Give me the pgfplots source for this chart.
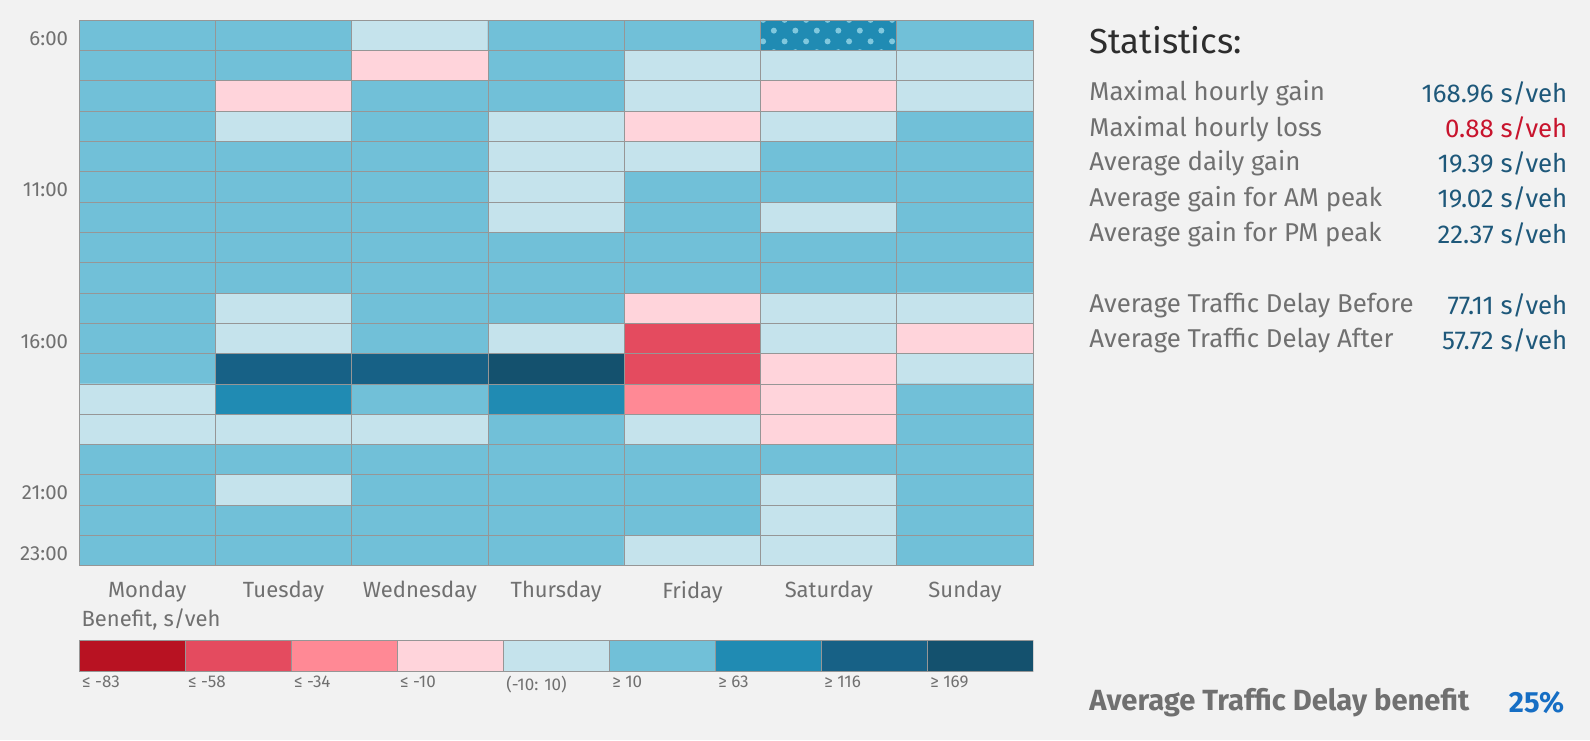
\documentclass[border=0pt]{standalone}
\usepackage{fontspec}
\setmainfont{Fira Sans}
\usepackage{pgfplots}
\usepackage{pgfplotstable}
\pgfplotsset{compat=1.18}
\usetikzlibrary{patterns.meta}

\definecolor{bg}{HTML}{F2F2F2}
\definecolor{gridgray}{RGB}{150,150,150}
\definecolor{labgray}{RGB}{112,112,112}
\definecolor{darktxt}{RGB}{45,45,45}
\definecolor{valblue}{RGB}{30,88,122}
\definecolor{valred}{RGB}{200,20,45}
\definecolor{pctblue}{RGB}{22,110,196}
% benefit classes, from <= -83 up to >= 169
\definecolor{cA}{RGB}{184,18,34}
\definecolor{cB}{RGB}{228,75,95}
\definecolor{cC}{RGB}{255,137,149}
\definecolor{cD}{RGB}{255,212,219}
\definecolor{cE}{RGB}{197,227,236}
\definecolor{cF}{RGB}{113,192,216}
\definecolor{cG}{RGB}{32,139,179}
\definecolor{cH}{RGB}{23,97,134}
\definecolor{cI}{RGB}{20,81,110}
\definecolor{dotblue}{RGB}{128,200,222}

% class index per cell: x = day (0 = Monday), y = hour
\pgfplotstableread{
x y c
0 6 5
1 6 5
2 6 4
3 6 5
4 6 5
5 6 6
6 6 5
0 7 5
1 7 5
2 7 3
3 7 5
4 7 4
5 7 4
6 7 4
0 8 5
1 8 3
2 8 5
3 8 5
4 8 4
5 8 3
6 8 4
0 9 5
1 9 4
2 9 5
3 9 4
4 9 3
5 9 4
6 9 5
0 10 5
1 10 5
2 10 5
3 10 4
4 10 4
5 10 5
6 10 5
0 11 5
1 11 5
2 11 5
3 11 4
4 11 5
5 11 5
6 11 5
0 12 5
1 12 5
2 12 5
3 12 4
4 12 5
5 12 4
6 12 5
0 13 5
1 13 5
2 13 5
3 13 5
4 13 5
5 13 5
6 13 5
0 14 5
1 14 5
2 14 5
3 14 5
4 14 5
5 14 5
6 14 5
0 15 5
1 15 4
2 15 5
3 15 5
4 15 3
5 15 4
6 15 4
0 16 5
1 16 4
2 16 5
3 16 4
4 16 1
5 16 4
6 16 3
0 17 5
1 17 7
2 17 7
3 17 8
4 17 1
5 17 3
6 17 4
0 18 4
1 18 6
2 18 5
3 18 6
4 18 2
5 18 3
6 18 5
0 19 4
1 19 4
2 19 4
3 19 5
4 19 4
5 19 3
6 19 5
0 20 5
1 20 5
2 20 5
3 20 5
4 20 5
5 20 5
6 20 5
0 21 5
1 21 4
2 21 5
3 21 5
4 21 5
5 21 4
6 21 5
0 22 5
1 22 5
2 22 5
3 22 5
4 22 5
5 22 4
6 22 5
0 23 5
1 23 5
2 23 5
3 23 5
4 23 4
5 23 4
6 23 5
}\heatdata

\begin{document}
\begin{tikzpicture}
\useasboundingbox (0,0) rectangle (795pt,-370pt);
\fill[bg] (0,0) rectangle (795pt,-370pt);

\begin{axis}[
  at={(39.55pt,-10.14pt)}, anchor=north west,
  scale only axis, width=477.1pt, height=272.8pt,
  xmin=-0.5, xmax=6.5, ymin=5.5, ymax=23.5, y dir=reverse,
  xtick={0,...,6},
  xticklabels={Monday,Tuesday,Wednesday,Thursday,Friday,Saturday,Sunday},
  ytick={6,11,16,21,23},
  yticklabels={6:00,11:00,16:00,21:00,23:00},
  major tick length=0, minor tick length=0,
  minor xtick={0.5,1.5,...,5.5},
  minor ytick={6.5,7.5,...,22.5},
  xminorgrids, yminorgrids,
  minor grid style={gridgray, line width=0.5pt},
  axis line style={gridgray, line width=0.5pt},
  axis on top,
  tick label style={text=labgray},
  xticklabel style={font=\fontsize{11}{13}\selectfont, yshift=-4pt},
  yticklabel style={font=\fontsize{10.2}{12}\selectfont, yshift=-1.5pt, xshift=-2pt},
  colormap={benefit}{color=(cA) color=(cB) color=(cC) color=(cD) color=(cE)
    color=(cF) color=(cG) color=(cH) color=(cI)},
  colormap access=direct,
]
\addplot[matrix plot*, mesh/cols=7, point meta=explicit] table[meta=c] {\heatdata};
% Saturday 6:00 cell carries a dotted overlay
\addplot[draw=none, pattern={Dots[angle=45, distance=7.6pt, radius=1.5pt]}, pattern color=dotblue]
  coordinates {(4.5,5.5) (5.5,5.5) (5.5,6.5) (4.5,6.5)} -- cycle;
\end{axis}

% legend bar
\begin{axis}[
  at={(39.55pt,-320.4pt)}, anchor=north west,
  scale only axis, width=477.1pt, height=15.2pt,
  xmin=0, xmax=9, ymin=0, ymax=1,
  axis line style={draw=none},
  ytick=\empty, major tick length=0,
  xtick={0,...,8},
  xticklabels={≤ -83, ≤ -58, ≤ -34, ≤ -10, (-10: 10), ≥ 10, ≥ 63, ≥ 116, ≥ 169},
  xticklabel style={anchor=north west, text=labgray, font=\fontsize{8.5}{10}\selectfont, xshift=-2pt, yshift=1pt},
]
\addplot[fill=cA, draw=gridgray] coordinates {(0,1) (1,1)} \closedcycle;
\addplot[fill=cB, draw=gridgray] coordinates {(1,1) (2,1)} \closedcycle;
\addplot[fill=cC, draw=gridgray] coordinates {(2,1) (3,1)} \closedcycle;
\addplot[fill=cD, draw=gridgray] coordinates {(3,1) (4,1)} \closedcycle;
\addplot[fill=cE, draw=gridgray] coordinates {(4,1) (5,1)} \closedcycle;
\addplot[fill=cF, draw=gridgray] coordinates {(5,1) (6,1)} \closedcycle;
\addplot[fill=cG, draw=gridgray] coordinates {(6,1) (7,1)} \closedcycle;
\addplot[fill=cH, draw=gridgray] coordinates {(7,1) (8,1)} \closedcycle;
\addplot[fill=cI, draw=gridgray] coordinates {(8,1) (9,1)} \closedcycle;
\end{axis}

\begin{scope}[x=0.507pt, y=-0.507pt]
\node[anchor=west, inner sep=0pt, text=labgray, font=\fontsize{11}{13}\selectfont] at (80,611) {Benefit, s/veh};

\node[anchor=west, inner sep=0pt, text=darktxt, font=\fontsize{17.4}{20}\selectfont] at (1074,40) {Statistics:};
\begin{scope}[every node/.style={inner sep=0pt, font=\fontsize{12.9}{15}\selectfont}]
\node[anchor=west, text=labgray] at (1074,92) {Maximal hourly gain};
\node[anchor=west, text=labgray] at (1074,127) {Maximal hourly loss};
\node[anchor=west, text=labgray] at (1074,161) {Average daily gain};
\node[anchor=west, text=labgray] at (1074,196) {Average gain for AM peak};
\node[anchor=west, text=labgray] at (1074,231) {Average gain for PM peak};
\node[anchor=west, text=labgray] at (1074,301) {Average Traffic Delay Before};
\node[anchor=west, text=labgray] at (1074,336) {Average Traffic Delay After};
\node[anchor=east, text=valblue] at (1546,92) {168.96 s/veh};
\node[anchor=east, text=valred] at (1546,127) {0.88 s/veh};
\node[anchor=east, text=valblue] at (1546,161) {19.39 s/veh};
\node[anchor=east, text=valblue] at (1546,196) {19.02 s/veh};
\node[anchor=east, text=valblue] at (1546,231) {22.37 s/veh};
\node[anchor=east, text=valblue] at (1546,301) {77.11 s/veh};
\node[anchor=east, text=valblue] at (1546,336) {57.72 s/veh};
\end{scope}
\node[anchor=west, inner sep=0pt, text=labgray, font=\bfseries\fontsize{14.6}{17}\selectfont] at (1074,693) {Average Traffic Delay benefit};
\node[anchor=east, inner sep=0pt, text=pctblue, font=\bfseries\fontsize{14.6}{17}\selectfont] at (1543,693) {25\%};
\end{scope}
\end{tikzpicture}
\end{document}
